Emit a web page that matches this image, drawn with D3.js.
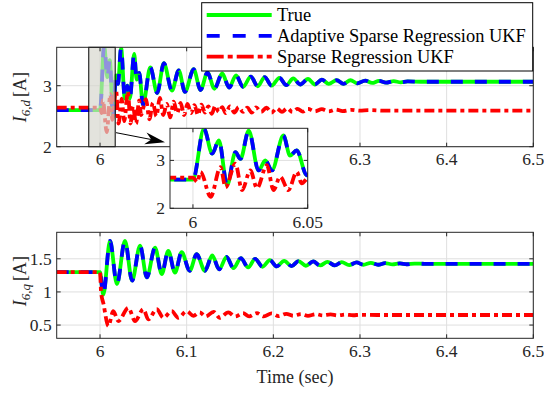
<!DOCTYPE html>
<html>
<head>
<meta charset="utf-8">
<script src="https://cdn.jsdelivr.net/npm/d3@7"></script>
<style>
  body { margin: 0; background: #fff; }
</style>
</head>
<body>
<div id="chart"></div>
<script>
// ---- data ----
const xTicks = [6, 6.1, 6.2, 6.3, 6.4, 6.5];
const yTicksD = [2, 3];
const yTicksQ = [0.5, 1, 1.5];
const insetXTicks = [6, 6.05];
const insetYTicks = [2, 3];
const zoomWindow = [5.987, 6.0175];
const legendLabels = ["True", "Adaptive Sparse Regression UKF", "Sparse Regression UKF"];

// I_{6,d}: true / adaptive (the adaptive estimate sits on the true curve)
const tD = [5.95, 6.0, 6.0048, 6.0084, 6.0113, 6.0149, 6.0185, 6.0207, 6.0243, 6.0286, 6.0315, 6.0344, 6.0394, 6.0423, 6.0452, 6.0496,
  6.058, 6.066, 6.0736, 6.083, 6.0908, 6.098, 6.108, 6.116, 6.124, 6.132,
  6.141, 6.149, 6.157, 6.165, 6.174, 6.182, 6.19, 6.198, 6.207, 6.215,
  6.223, 6.231, 6.24, 6.248, 6.256, 6.264, 6.273, 6.281, 6.289, 6.297,
  6.306, 6.314, 6.322, 6.33, 6.339, 6.347, 6.355, 6.37, 6.5];
const trueD = [2.6, 2.6, 3.66, 3.14, 3.42, 2.48, 3.17, 3.03, 3.62, 2.79, 3.0, 2.79, 3.52, 3.1, 3.21, 2.69,
  3.3, 2.88, 3.37, 2.92, 3.25, 2.9, 3.27, 2.93, 3.22, 2.95,
  3.2, 2.97, 3.17, 2.98, 3.15, 2.99, 3.14, 3.0, 3.13, 3.01,
  3.12, 3.02, 3.11, 3.02, 3.1, 3.03, 3.09, 3.03, 3.09, 3.04,
  3.085, 3.045, 3.08, 3.05, 3.075, 3.055, 3.07, 3.065, 3.065];
const adaptiveD = trueD;

// I_{6,d}: sparse regression UKF
const tDs = [5.95, 6.0, 6.0019, 6.0033, 6.0077, 6.012, 6.0142, 6.0185, 6.0214, 6.025, 6.0279, 6.0322, 6.0351, 6.038, 6.0416, 6.0452, 6.0474, 6.0496,
  6.053, 6.057, 6.061, 6.065, 6.069, 6.073, 6.077, 6.081, 6.085, 6.089,
  6.093, 6.097, 6.101, 6.105, 6.109, 6.113, 6.117, 6.121, 6.125, 6.129,
  6.133, 6.137, 6.141, 6.145, 6.15, 6.155, 6.16, 6.165, 6.17, 6.175,
  6.18, 6.186, 6.192, 6.198, 6.204, 6.21, 6.216, 6.222, 6.228, 6.234,
  6.24, 6.248, 6.256, 6.264, 6.272, 6.28, 6.29, 6.3, 6.31, 6.33, 6.5];
const sparseD = [2.64, 2.64, 2.55, 2.76, 2.24, 2.86, 2.44, 2.93, 2.38, 2.79, 2.42, 2.9, 2.38, 2.66, 2.38, 2.76, 2.52, 2.62,
  2.78, 2.45, 2.72, 2.5, 2.8, 2.52, 2.7, 2.48, 2.74, 2.55,
  2.72, 2.52, 2.7, 2.55, 2.68, 2.52, 2.69, 2.56, 2.66, 2.54,
  2.67, 2.57, 2.65, 2.55, 2.66, 2.56, 2.65, 2.57, 2.64, 2.56,
  2.645, 2.57, 2.64, 2.56, 2.63, 2.57, 2.63, 2.57, 2.62, 2.575,
  2.62, 2.58, 2.615, 2.58, 2.61, 2.585, 2.605, 2.59, 2.6, 2.59, 2.59];

// I_{6,q}: true / adaptive
const tQ = [5.95, 6.0, 6.002, 6.0038,
  6.0115, 6.0195, 6.0288, 6.037, 6.0462, 6.054, 6.0635, 6.0712, 6.0788, 6.0865,
  6.0942, 6.1035, 6.1115, 6.121, 6.1295, 6.1375, 6.146, 6.154, 6.1625, 6.171,
  6.179, 6.1875, 6.196, 6.204, 6.2125, 6.221, 6.229, 6.2375, 6.246, 6.254,
  6.2625, 6.271, 6.279, 6.2875, 6.296, 6.304, 6.3125, 6.321, 6.329, 6.3375,
  6.346, 6.354, 6.363, 6.375, 6.5];
const trueQ = [1.3, 1.3, 1.1, 0.96,
  1.77, 1.12, 1.77, 1.17, 1.7, 1.22, 1.67, 1.27, 1.62, 1.29,
  1.6, 1.32, 1.57, 1.32, 1.55, 1.34, 1.53, 1.36, 1.51, 1.37,
  1.5, 1.38, 1.48, 1.385, 1.47, 1.39, 1.465, 1.395, 1.46, 1.4,
  1.455, 1.4, 1.45, 1.405, 1.445, 1.41, 1.44, 1.41, 1.435, 1.415,
  1.43, 1.418, 1.428, 1.424, 1.424];
const adaptiveQ = trueQ;

// I_{6,q}: sparse regression UKF
const tQs = [5.95, 6.0, 6.0012, 6.004, 6.0096,
  6.0153, 6.0211, 6.0327, 6.0404, 6.05, 6.0557, 6.0654, 6.073, 6.0827, 6.0903,
  6.1, 6.1077, 6.115, 6.122, 6.131, 6.138, 6.148, 6.156, 6.165, 6.172,
  6.181, 6.189, 6.198, 6.206, 6.215, 6.223, 6.232, 6.24, 6.249, 6.257,
  6.266, 6.274, 6.283, 6.292, 6.3, 6.32, 6.5];
const sparseQ = [1.3, 1.3, 1.0, 0.82, 0.485,
  0.71, 0.56, 0.76, 0.56, 0.74, 0.585, 0.74, 0.61, 0.71, 0.61,
  0.71, 0.64, 0.69, 0.63, 0.7, 0.61, 0.69, 0.63, 0.68, 0.63,
  0.68, 0.63, 0.675, 0.635, 0.67, 0.64, 0.665, 0.64, 0.665, 0.645,
  0.66, 0.645, 0.658, 0.648, 0.655, 0.652, 0.652];

// ---- layout ----
const serif = "'Liberation Serif', 'DejaVu Serif', serif";

const svg = d3.select("#chart")
  .append("svg")
  .attr("width", 544)
  .attr("height", 397)
  .attr("font-family", serif);

const x = d3.scaleLinear().domain([5.95, 6.5]).range([56.7, 533.3]);
const yD = d3.scaleLinear().domain([2, 3.63]).range([146.7, 47.3]);
const yQ = d3.scaleLinear().domain([0.3, 1.9]).range([338.3, 232.3]);
const xi = d3.scaleLinear().domain([5.99, 6.05]).range([170, 307.7]);
const yi = d3.scaleLinear().domain([2, 3.67]).range([208.3, 128.3]);

const styles = [
  { color: "#00ff00", dash: null },
  { color: "#0000ff", dash: "12,12" },
  { color: "#ff0000", dash: "10,4,4,4" }
];
const axisColor = "#262626";

// background, grid and curves of one axes
function drawPanel(id, x, y, xt, yt, series) {
  const g = svg.append("g");
  const [x0, x1] = x.range();
  const [yb, yt0] = y.range();

  g.append("clipPath").attr("id", id)
    .append("rect")
    .attr("x", x0).attr("y", yt0)
    .attr("width", x1 - x0).attr("height", yb - yt0);

  g.append("rect")
    .attr("x", x0).attr("y", yt0)
    .attr("width", x1 - x0).attr("height", yb - yt0)
    .attr("fill", "#fff");

  g.selectAll(".vgrid").data(xt).join("line")
    .attr("x1", d => x(d)).attr("x2", d => x(d))
    .attr("y1", yt0).attr("y2", yb)
    .attr("stroke", "#dfdfdf").attr("stroke-width", 1);
  g.selectAll(".hgrid").data(yt).join("line")
    .attr("x1", x0).attr("x2", x1)
    .attr("y1", d => y(d)).attr("y2", d => y(d))
    .attr("stroke", "#dfdfdf").attr("stroke-width", 1);

  const line = d3.line()
    .x(d => x(d[0]))
    .y(d => y(d[1]))
    .curve(d3.curveMonotoneX);

  g.append("g").attr("clip-path", `url(#${id})`)
    .selectAll("path")
    .data(series)
    .join("path")
    .attr("fill", "none")
    .attr("stroke", (d, i) => styles[i].color)
    .attr("stroke-dasharray", (d, i) => styles[i].dash)
    .attr("stroke-width", 3.8)
    .attr("d", d => line(d3.zip(d[0], d[1])));

  return g;
}

// box, inward ticks and tick labels
function drawFrame(g, x, y, xt, yt, xFmt, labelGap) {
  const [x0, x1] = x.range();
  const [yb, yt0] = y.range();

  g.append("rect")
    .attr("x", x0).attr("y", yt0)
    .attr("width", x1 - x0).attr("height", yb - yt0)
    .attr("fill", "none")
    .attr("stroke", axisColor).attr("stroke-width", 1);

  const ticks = g.append("g").attr("stroke", axisColor).attr("stroke-width", 1);
  xt.forEach(v => {
    ticks.append("line").attr("x1", x(v)).attr("x2", x(v)).attr("y1", yb).attr("y2", yb - 4);
    ticks.append("line").attr("x1", x(v)).attr("x2", x(v)).attr("y1", yt0).attr("y2", yt0 + 4);
  });
  yt.forEach(v => {
    ticks.append("line").attr("x1", x0).attr("x2", x0 + 4).attr("y1", y(v)).attr("y2", y(v));
    ticks.append("line").attr("x1", x1).attr("x2", x1 - 4).attr("y1", y(v)).attr("y2", y(v));
  });

  g.selectAll(".xlab").data(xt).join("text")
    .attr("x", d => x(d))
    .attr("y", yb + labelGap)
    .attr("text-anchor", "middle")
    .attr("font-family", serif)
    .attr("font-size", 17.5)
    .attr("fill", axisColor)
    .text(xFmt);

  g.selectAll(".ylab").data(yt).join("text")
    .attr("x", x0 - 5)
    .attr("y", d => y(d) + 6)
    .attr("text-anchor", "end")
    .attr("font-family", serif)
    .attr("font-size", 17.5)
    .attr("fill", axisColor)
    .text(d => d);
}

// ---- top axes: I_{6,d} ----
const axesD = drawPanel("clipD", x, yD, xTicks, yTicksD,
  [[tD, trueD], [tD, adaptiveD], [tDs, sparseD]]);

// shaded zoom window
axesD.append("rect")
  .attr("x", x(zoomWindow[0]))
  .attr("y", yD.range()[1])
  .attr("width", x(zoomWindow[1]) - x(zoomWindow[0]))
  .attr("height", yD.range()[0] - yD.range()[1])
  .attr("fill", "#d6d5cd").attr("fill-opacity", 0.68)
  .attr("stroke", "#000").attr("stroke-width", 1);

drawFrame(axesD, x, yD, xTicks, yTicksD, d => d3.format(".1~f")(d), 18.5);

// arrow from the window to the inset
const aS = [x(6.0185), yD(2.23)];
const aT = [xi(5.99) - 5, yi(3.38)];
const ang = Math.atan2(aT[1] - aS[1], aT[0] - aS[0]);
const ux = Math.cos(ang), uy = Math.sin(ang);
svg.append("line")
  .attr("x1", aS[0]).attr("y1", aS[1])
  .attr("x2", aT[0] - 14 * ux).attr("y2", aT[1] - 14 * uy)
  .attr("stroke", "#000").attr("stroke-width", 1);
const hp = d3.path();
hp.moveTo(aT[0], aT[1]);
hp.lineTo(aT[0] - 20 * ux + 6 * uy, aT[1] - 20 * uy - 6 * ux);
hp.lineTo(aT[0] - 14 * ux, aT[1] - 14 * uy);
hp.lineTo(aT[0] - 20 * ux - 6 * uy, aT[1] - 20 * uy + 6 * ux);
hp.closePath();
svg.append("path").attr("d", hp.toString()).attr("fill", "#000");

// ---- inset ----
const axesInset = drawPanel("clipI", xi, yi, insetXTicks, insetYTicks,
  [[tD, trueD], [tD, adaptiveD], [tDs, sparseD]]);
drawFrame(axesInset, xi, yi, insetXTicks, insetYTicks, d => d, 20);

// ---- bottom axes: I_{6,q} ----
const axesQ = drawPanel("clipQ", x, yQ, xTicks, yTicksQ,
  [[tQ, trueQ], [tQ, adaptiveQ], [tQs, sparseQ]]);
drawFrame(axesQ, x, yQ, xTicks, yTicksQ, d => d3.format(".1~f")(d), 18.7);

// ---- axis titles ----
function yTitle(cx, cy, sub) {
  const t = svg.append("text")
    .attr("transform", `translate(${cx},${cy}) rotate(-90)`)
    .attr("text-anchor", "middle")
    .attr("font-family", serif)
    .attr("font-size", 18)
    .attr("fill", axisColor);
  t.append("tspan").attr("font-style", "italic").text("I");
  t.append("tspan").attr("dy", 4).attr("font-size", 13).attr("font-style", "italic").text(sub);
  t.append("tspan").attr("dy", -4).attr("dx", 3).text("[A]");
}
yTitle(26, 97, "6,d");
yTitle(26, 281, "6,q");

svg.append("text")
  .attr("x", (x.range()[0] + x.range()[1]) / 2)
  .attr("y", 383)
  .attr("text-anchor", "middle")
  .attr("font-family", serif)
  .attr("font-size", 18)
  .attr("fill", axisColor)
  .text("Time (sec)");

// ---- legend ----
const legend = svg.append("g");
legend.append("rect")
  .attr("x", 201.7).attr("y", 2.7)
  .attr("width", 331).attr("height", 68.3)
  .attr("fill", "#fff")
  .attr("stroke", "#000").attr("stroke-width", 1);

const rows = legend.selectAll(".row")
  .data(legendLabels)
  .join("g")
  .attr("transform", (d, i) => `translate(0,${15 + i * 20.8})`);
rows.append("line")
  .attr("x1", 206.7).attr("x2", 271.7)
  .attr("stroke", (d, i) => styles[i].color)
  .attr("stroke-dasharray", (d, i) => styles[i].dash ? (i === 1 ? "13,13" : "17,4,5,4") : null)
  .attr("stroke-width", 3.8);
rows.append("text")
  .attr("x", 277)
  .attr("y", 6)
  .attr("font-family", serif)
  .attr("font-size", 18.4)
  .attr("fill", "#000")
  .text(d => d);
</script>
</body>
</html>
